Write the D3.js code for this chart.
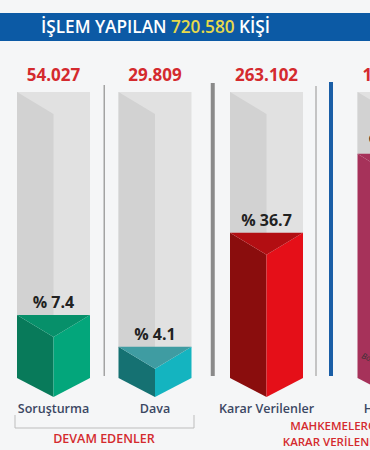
<!DOCTYPE html>
<html>
<head>
<meta charset="utf-8">
<script src="https://cdn.jsdelivr.net/npm/d3@7"></script>
<style>
  body { margin: 0; background: #f5f6f7; }
  svg { display: block; font-family: "Open Sans", "Noto Sans", sans-serif; }
</style>
</head>
<body>
<div id="chart"></div>
<script>
var W = 370, H = 450;

var total = "720.580";
var categories = ["Soruşturma", "Dava", "Karar Verilenler", "Hükümler"];
var values = ["54.027", "29.809", "263.102", "190.224"];
var percents = [7.4, 4.1, 36.7, 72.3];
var groups = ["DEVAM EDENLER", "MAHKEMELERCE|KARAR VERİLENLER"];

var faceColors = [
  {left: "#087a5a", right: "#03a67b", top: "#07906a"},
  {left: "#157172", right: "#14b4c0", top: "#3f9ca2"},
  {left: "#8a0d0d", right: "#e50f18", top: "#b20e12"},
  {left: "#a6325a", right: "#b23a62", top: "#a6325a"}
];

var barW = 73, foldDrop = 22, pointDrop = 19;
var topY = 92, baseY = 378;
var xShift = [0, 0, 10, 36];

var svg = d3.select("#chart").append("svg")
    .attr("width", W).attr("height", H);

svg.append("rect").attr("width", W).attr("height", H).attr("fill", "#f5f6f7");

/* header */
svg.append("rect").attr("x", 0).attr("y", 13).attr("width", W).attr("height", 28)
    .attr("fill", "#0c5aa5");
var head = svg.append("text").attr("x", 41).attr("y", 33)
    .attr("font-size", 18).attr("font-weight", 600).attr("fill", "#fff")
    .attr("textLength", 229).attr("lengthAdjust", "spacingAndGlyphs");
head.append("tspan").text("İŞLEM YAPILAN ");
head.append("tspan").attr("fill", "#e6d94c").text(total);
head.append("tspan").text(" KİŞİ");

/* scales */
var x = d3.scalePoint().domain(categories).range([53.5, 358]);
var cx = function(d, i) { return x(d) + xShift[i]; };
var y = d3.scaleLinear().domain([0, 5, 10, 40, 100]).range([baseY, 340, 288, 226, topY]);

/* separators */
var edges = categories.map(function(d, i) { return [cx(d, i) - barW / 2, cx(d, i) + barW / 2]; });
var seps = [
  {x: (edges[0][1] + edges[1][0]) / 2, w: 1.5, c: "#a3a3a3", y1: 85},
  {x: (edges[1][1] + edges[2][0]) / 2 + 2, w: 4, c: "#8a8a8a", y1: 83},
  {x: edges[2][1] + 13, w: 1.5, c: "#b3b3b3", y1: 86},
  {x: edges[2][1] + 28, w: 4, c: "#1a5ea6", y1: 82}
];
svg.selectAll("line.sep").data(seps).enter().append("line")
    .attr("class", "sep")
    .attr("x1", function(d) { return d.x; }).attr("x2", function(d) { return d.x; })
    .attr("y1", function(d) { return d.y1; }).attr("y2", 376)
    .attr("stroke", function(d) { return d.c; })
    .attr("stroke-width", function(d) { return d.w; });

/* bars */
var bars = svg.selectAll("g.bar").data(categories).enter().append("g").attr("class", "bar");

bars.each(function(d, i) {
  var g = d3.select(this);
  var c = cx(d, i), L = c - barW / 2, R = c + barW / 2;
  var f = y(percents[i]);
  var col = faceColors[i];
  // gray container
  g.append("rect").attr("x", L).attr("y", topY).attr("width", barW).attr("height", f - topY + 1)
      .attr("fill", "#e1e1e1");
  g.append("path").attr("fill", "#d2d2d2")
      .attr("d", "M" + L + "," + topY + "L" + c + "," + (topY + foldDrop) +
                 "L" + c + "," + (f + 1) + "L" + L + "," + (f + 1) + "Z");
  // coloured fill
  g.append("path").attr("fill", col.left)
      .attr("d", "M" + L + "," + f + "L" + c + "," + (f + foldDrop) + "L" + c + "," + (baseY + pointDrop) +
                 "L" + L + "," + baseY + "Z");
  g.append("path").attr("fill", col.right)
      .attr("d", "M" + R + "," + f + "L" + c + "," + (f + foldDrop) + "L" + c + "," + (baseY + pointDrop) +
                 "L" + R + "," + baseY + "Z");
  g.append("path").attr("fill", col.top)
      .attr("d", "M" + L + "," + f + "L" + R + "," + f + "L" + c + "," + (f + foldDrop) + "Z");
  // labels
  g.append("text").attr("x", c).attr("y", 81).attr("text-anchor", "middle")
      .attr("font-size", 17).attr("font-weight", 700).attr("fill", "#d42a2e")
      .text(values[i]);
  g.append("text").attr("x", c).attr("y", f - 7).attr("text-anchor", "middle")
      .attr("font-size", 16).attr("font-weight", 700).attr("fill", "#222")
      .text("% " + percents[i]);
  g.append("text").attr("x", c).attr("y", 413).attr("text-anchor", "middle")
      .attr("font-size", 12.5).attr("font-weight", 600).attr("fill", "#3b4763")
      .text(d);
});

/* small note inside the last bar */
svg.append("text").attr("transform", "translate(361,358) rotate(22)")
    .attr("font-size", 8).attr("font-style", "italic").attr("fill", "#333")
    .text("Bozma");

/* group brackets */
svg.append("path").attr("fill", "none").attr("stroke", "#bdbdbd").attr("stroke-width", 1)
    .attr("d", "M15,415V428H194V415");
svg.append("text").attr("x", 104).attr("y", 443).attr("text-anchor", "middle")
    .attr("font-size", 12.5).attr("font-weight", 600).attr("fill", "#d42a2e")
    .text(groups[0]);
groups[1].split("|").forEach(function(t, k) {
  svg.append("text").attr("x", 336).attr("y", 430 + k * 15.5).attr("text-anchor", "middle")
      .attr("font-size", 11.5).attr("font-weight", 600).attr("fill", "#d42a2e")
      .text(t);
});
</script>
</body>
</html>
